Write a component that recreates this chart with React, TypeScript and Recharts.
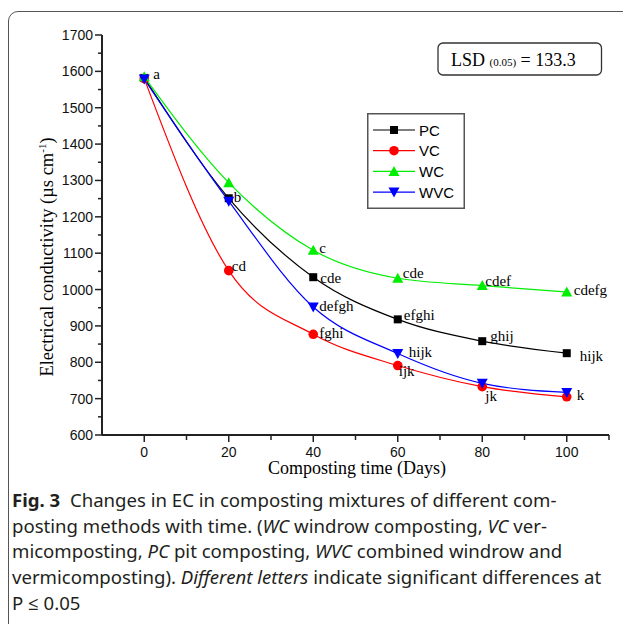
import { LineChart, Line, XAxis, YAxis, Legend } from "recharts";

// EC (µs cm-1) over composting time
const days = [0, 20, 40, 60, 80, 100];
const pc = [1582, 1251, 1034, 918, 858, 825];
const vc = [1580, 1052, 877, 791, 733, 705];
const wc = [1585, 1294, 1108, 1031, 1011, 993];
const wvc = [1579, 1243, 952, 824, 742, 717];

// significance letters per point
const pcLetters = ["", "", "cde", "efghi", "ghij", "hijk"];
const vcLetters = ["", "cd", "fghi", "ijk", "jk", "k"];
const wcLetters = ["a", "", "c", "cde", "cdef", "cdefg"];
const wvcLetters = ["", "b", "defgh", "hijk", "", ""];

const yMajor = [600, 700, 800, 900, 1000, 1100, 1200, 1300, 1400, 1500, 1600, 1700];
const yMinor = [650, 750, 850, 950, 1050, 1150, 1250, 1350, 1450, 1550, 1650];
const xMajor = [0, 20, 40, 60, 80, 100];
const xMinor = [10, 30, 50, 70, 90, 110];

const rows = days.map((d, i) => ({ day: d, PC: pc[i], VC: vc[i], WC: wc[i], WVC: wvc[i] }));

// label nudges (dx, dy from the marker to the text baseline start)
const pcOff = [[0, 0], [0, 0], [7, 6], [6, 1], [8, 0], [13, 8]];
const vcOff = [[0, 0], [3, 0], [6, 4], [1, 10], [3, 14], [10, 3]];
const wcOff = [[9, 2], [0, 0], [6, 3], [5, 0], [3, 0], [7, 3]];
const wvcOff = [[0, 0], [5, 1], [6, 4], [11, 3], [0, 0], [0, 0]];

const SERIF = "'Liberation Serif', 'Times New Roman', serif";
const SANS = "'Liberation Sans', Arial, sans-serif";

type Shape = "square" | "circle" | "up" | "down";

function Marker({ shape, cx, cy, color }: { shape: Shape; cx: number; cy: number; color: string }) {
  if (shape === "square") return <rect x={cx - 4} y={cy - 4} width={8} height={8} fill={color} />;
  if (shape === "circle") return <circle cx={cx} cy={cy} r={4.8} fill={color} />;
  if (shape === "up")
    return <polygon points={`${cx - 5.5},${cy + 4.5} ${cx + 5.5},${cy + 4.5} ${cx},${cy - 5.5}`} fill={color} />;
  return <polygon points={`${cx - 5.5},${cy - 4.5} ${cx + 5.5},${cy - 4.5} ${cx},${cy + 5.5}`} fill={color} />;
}

const makeDot = (shape: Shape, color: string, letters: string[], off: number[][]) => (p: any) => {
  const { cx, cy, index } = p;
  return (
    <g key={`${shape}-${index}`}>
      <Marker shape={shape} cx={cx} cy={cy} color={color} />
      {letters[index] ? (
        <text x={cx + off[index][0]} y={cy + off[index][1]} fontFamily={SERIF} fontSize={15} fill="#000">
          {letters[index]}
        </text>
      ) : null}
    </g>
  );
};

const YTick = (p: any) => {
  const v = p.payload.value;
  const major = yMajor.includes(v);
  return (
    <g>
      <line x1={p.x} x2={p.x - (major ? 7 : 4)} y1={p.y} y2={p.y} stroke="#222" strokeWidth={1.5} />
      {major ? (
        <text x={p.x - 9} y={p.y + 5} textAnchor="end" fontFamily={SANS} fontSize={14} fill="#111">
          {v}
        </text>
      ) : null}
    </g>
  );
};

const XTick = (p: any) => {
  const v = p.payload.value;
  const major = xMajor.includes(v);
  return (
    <g>
      <line x1={p.x} x2={p.x} y1={p.y} y2={p.y + (major ? 7 : 5)} stroke="#222" strokeWidth={1.5} />
      {major ? (
        <text x={p.x} y={p.y + 21.5} textAnchor="middle" fontFamily={SANS} fontSize={14} fill="#111">
          {v}
        </text>
      ) : null}
    </g>
  );
};

const legendItems: { name: string; shape: Shape; color: string }[] = [
  { name: "PC", shape: "square", color: "#000000" },
  { name: "VC", shape: "circle", color: "#ff0000" },
  { name: "WC", shape: "up", color: "#00ee00" },
  { name: "WVC", shape: "down", color: "#0000ff" },
];

const LegendBox = () => (
  <svg width={98} height={96}>
    <rect x={0.75} y={0.75} width={96.5} height={94.5} fill="#fff" stroke="#555" strokeWidth={1.5} />
    {legendItems.map((it, i) => {
      const y = 17 + i * 20.7;
      return (
        <g key={it.name}>
          <line x1={6} x2={48} y1={y} y2={y} stroke={it.color} strokeWidth={1.2} />
          <Marker shape={it.shape} cx={27} cy={y} color={it.color} />
          <text x={52} y={y + 5.5} fontFamily={SANS} fontSize={15} fill="#000">
            {it.name}
          </text>
        </g>
      );
    })}
  </svg>
);

const caption = [
  [{ t: "Fig. 3", b: true }, { t: "  Changes in EC in composting mixtures of different com-" }],
  [{ t: "posting methods with time. (" }, { t: "WC", i: true }, { t: " windrow composting, " }, { t: "VC", i: true }, { t: " ver-" }],
  [{ t: "micomposting, " }, { t: "PC", i: true }, { t: " pit composting, " }, { t: "WVC", i: true }, { t: " combined windrow and" }],
  [{ t: "vermicomposting). " }, { t: "Different letters", i: true }, { t: " indicate significant differences at" }],
  [{ t: "P ≤ 0.05" }],
] as { t: string; b?: boolean; i?: boolean }[][];

export default function App() {
  return (
    <div style={{ position: "absolute", left: 0, top: 0, width: 623, height: 624, overflow: "hidden", background: "#fff" }}>
      <div
        style={{
          position: "absolute",
          left: 8,
          top: 11,
          width: 720,
          height: 720,
          border: "1.5px solid #555",
          borderRadius: 10,
        }}
      />
      <div style={{ position: "absolute", left: 0, top: 0 }}>
        <LineChart width={623} height={480} data={rows} margin={{ top: 35, right: 14, bottom: 44, left: 101 }}>
          <XAxis
            dataKey="day"
            type="number"
            domain={[-10, 110]}
            ticks={[...xMajor, ...xMinor]}
            interval={0}
            height={1}
            tickSize={0}
            tickMargin={0}
            tickLine={false}
            axisLine={{ stroke: "#222", strokeWidth: 2 }}
            tick={XTick}
          />
          <YAxis
            type="number"
            domain={[600, 1700]}
            ticks={[...yMajor, ...yMinor]}
            interval={0}
            width={1}
            tickSize={0}
            tickMargin={0}
            tickLine={false}
            axisLine={{ stroke: "#222", strokeWidth: 2 }}
            tick={YTick}
          />
          <Legend
            layout="horizontal"
            verticalAlign="middle"
            align="center"
            content={() => <LegendBox />}
            wrapperStyle={{ position: "absolute", left: 367, top: 113, width: 98, height: 96 }}
          />
          <Line type="monotone" dataKey="PC" stroke="#000000" strokeWidth={1.2} isAnimationActive={false}
            dot={makeDot("square", "#000000", pcLetters, pcOff)} />
          <Line type="monotone" dataKey="VC" stroke="#ff0000" strokeWidth={1.2} isAnimationActive={false}
            dot={makeDot("circle", "#ff0000", vcLetters, vcOff)} />
          <Line type="monotone" dataKey="WC" stroke="#00ee00" strokeWidth={1.2} isAnimationActive={false}
            dot={makeDot("up", "#00ee00", wcLetters, wcOff)} />
          <Line type="monotone" dataKey="WVC" stroke="#0000ff" strokeWidth={1.2} isAnimationActive={false}
            dot={makeDot("down", "#0000ff", wvcLetters, wvcOff)} />
        </LineChart>
      </div>
      <svg width={623} height={480} style={{ position: "absolute", left: 0, top: 0, pointerEvents: "none" }}>
        <text transform="translate(53,257) rotate(-90)" textAnchor="middle" fontFamily={SERIF} fontSize={18.5} fill="#000">
          Electrical conductivity (µs cm<tspan dy={-7} fontSize={11}>-1</tspan>
          <tspan dy={7}>)</tspan>
        </text>
        <text x={357} y={474} textAnchor="middle" fontFamily={SERIF} fontSize={18} fill="#000">
          Composting time (Days)
        </text>
        <rect x={438} y={43} width={163.5} height={32} rx={5} fill="#fff" stroke="#333" strokeWidth={1.3} />
        <text x={451} y={66} fontFamily={SERIF} fontSize={18} fill="#000">
          LSD <tspan fontSize={11}>(0.05)</tspan> = 133.3
        </text>
      </svg>
      <div
        style={{
          position: "absolute",
          left: 12,
          top: 487,
          fontFamily: "'Noto Sans', 'Open Sans', sans-serif",
          fontSize: 18.6,
          lineHeight: "25.7px",
          color: "#231f20",
          whiteSpace: "nowrap",
        }}
      >
        {caption.map((line, li) => (
          <div key={li}>
            {line.map((s, si) =>
              s.b ? (
                <b key={si}>{s.t}</b>
              ) : s.i ? (
                <i key={si}>{s.t}</i>
              ) : (
                <span key={si} style={{ whiteSpace: "pre" }}>{s.t}</span>
              )
            )}
          </div>
        ))}
      </div>
    </div>
  );
}
